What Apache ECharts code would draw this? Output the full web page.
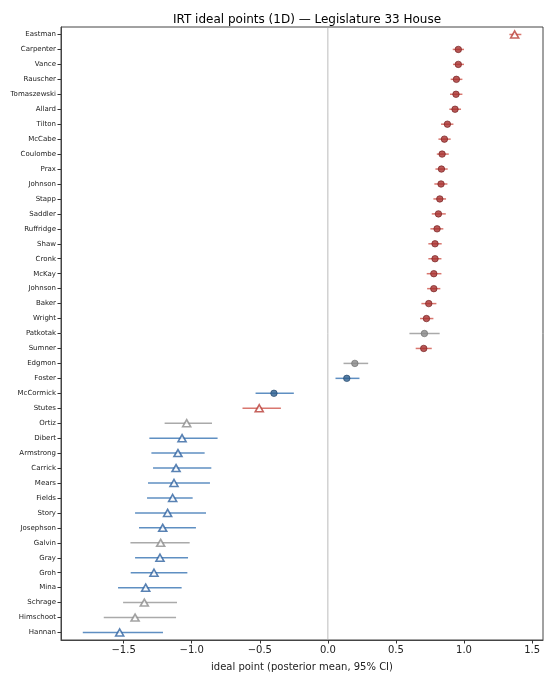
<!DOCTYPE html>
<html>
<head>
<meta charset="utf-8">
<script src="https://cdn.jsdelivr.net/npm/echarts@6/dist/echarts.min.js"></script>
<style>
  html, body { margin: 0; padding: 0; background: #fff; }
  #main { width: 553px; height: 680px; }
</style>
</head>
<body>
<div id="main"></div>
<script>
  // legislators, top to bottom
  const names = ['Eastman', 'Carpenter', 'Vance', 'Rauscher', 'Tomaszewski', 'Allard', 'Tilton', 'McCabe',
    'Coulombe', 'Prax', 'Johnson', 'Stapp', 'Saddler', 'Ruffridge', 'Shaw', 'Cronk', 'McKay', 'Johnson',
    'Baker', 'Wright', 'Patkotak', 'Sumner', 'Edgmon', 'Foster', 'McCormick', 'Stutes', 'Ortiz', 'Dibert',
    'Armstrong', 'Carrick', 'Mears', 'Fields', 'Story', 'Josephson', 'Galvin', 'Gray', 'Groh', 'Mina',
    'Schrage', 'Himschoot', 'Hannan'];
  // posterior mean
  const means = [1.372, 0.958, 0.958, 0.944, 0.941, 0.934, 0.878, 0.856, 0.839, 0.834, 0.831, 0.822,
    0.812, 0.802, 0.787, 0.787, 0.778, 0.778, 0.741, 0.724, 0.709, 0.704, 0.198, 0.139, -0.396, -0.504,
    -1.037, -1.071, -1.101, -1.115, -1.130, -1.140, -1.177, -1.213, -1.228, -1.233, -1.277, -1.338,
    -1.348, -1.416, -1.529];
  // 95% CI bounds
  const lo = [1.333, 0.917, 0.919, 0.902, 0.897, 0.892, 0.831, 0.812, 0.800, 0.790, 0.782, 0.775,
    0.763, 0.753, 0.738, 0.738, 0.726, 0.729, 0.687, 0.677, 0.599, 0.645, 0.115, 0.056, -0.531, -0.627,
    -1.199, -1.311, -1.296, -1.284, -1.321, -1.328, -1.416, -1.387, -1.450, -1.416, -1.448, -1.541,
    -1.504, -1.646, -1.800];
  const hi = [1.421, 1.000, 1.000, 0.988, 0.988, 0.978, 0.922, 0.902, 0.888, 0.880, 0.878, 0.868,
    0.866, 0.848, 0.836, 0.834, 0.834, 0.826, 0.797, 0.775, 0.821, 0.763, 0.296, 0.232, -0.250, -0.345,
    -0.851, -0.810, -0.905, -0.856, -0.866, -0.993, -0.895, -0.969, -1.015, -1.027, -1.032, -1.074,
    -1.108, -1.115, -1.211];
  // R / D / I
  const party = ['R', 'R', 'R', 'R', 'R', 'R', 'R', 'R', 'R', 'R', 'R', 'R', 'R', 'R', 'R', 'R', 'R', 'R',
    'R', 'R', 'I', 'R', 'I', 'D', 'D', 'R', 'I', 'D', 'D', 'D', 'D', 'D', 'D', 'D', 'I', 'D', 'D', 'D',
    'I', 'I', 'D'];
  // c = circle, t = triangle
  const shape = ['t', 'c', 'c', 'c', 'c', 'c', 'c', 'c', 'c', 'c', 'c', 'c', 'c', 'c', 'c', 'c', 'c', 'c',
    'c', 'c', 'c', 'c', 'c', 'c', 'c', 't', 't', 't', 't', 't', 't', 't', 't', 't', 't', 't', 't', 't',
    't', 't', 't'];
  const xTicks = [-1.5, -1.0, -0.5, 0.0, 0.5, 1.0, 1.5];

  const lineColor = { R: '#d9776f', D: '#5f8fc2', I: '#aaaaaa' };
  const fillColor = { R: '#a8302e', D: '#2e5f8f', I: '#888888' };
  const edgeColor = { R: '#6e1a1a', D: '#1f4266', I: '#6a6a6a' };
  const triColor = { R: '#b83c36', D: '#2f63a0', I: '#8c8c8c' };

  // [lo, row, hi]
  const ciData = names.map((n, i) => [lo[i], i, hi[i]]);
  const ptData = names.map((n, i) => {
    const p = party[i];
    if (shape[i] === 't') {
      return {
        value: [means[i], i],
        symbol: 'triangle',
        symbolSize: [8, 7],
        itemStyle: { color: '#fff', borderColor: triColor[p], borderWidth: 1.6 }
      };
    }
    return {
      value: [means[i], i],
      symbol: 'circle',
      symbolSize: 6.5,
      itemStyle: { color: fillColor[p], borderColor: edgeColor[p], borderWidth: 0.8 }
    };
  });

  const fmt = v => (v < 0 ? '\u2212' : '') + Math.abs(v).toFixed(1);

  const chart = echarts.init(document.getElementById('main'));
  chart.setOption({
    animation: false,
    textStyle: { fontFamily: 'DejaVu Sans' },
    title: {
      text: 'IRT ideal points (1D) \u2014 Legislature 33 House',
      left: 302,
      textAlign: 'center',
      top: 9,
      textStyle: { fontSize: 12, fontWeight: 'normal', color: '#000', fontFamily: 'DejaVu Sans' }
    },
    grid: {
      left: 61, right: 10, top: 27, bottom: 40,
      show: true, borderColor: '#444', borderWidth: 1
    },
    xAxis: {
      type: 'value',
      min: -1.96,
      max: 1.58,
      splitLine: { show: false },
      axisLine: { show: true, onZero: false, lineStyle: { color: '#444' } },
      axisTick: { show: true, length: 3.5, customValues: xTicks, lineStyle: { color: '#333' } },
      axisLabel: { customValues: xTicks, formatter: fmt, fontSize: 10, color: '#222', margin: 5 },
      name: 'ideal point (posterior mean, 95% CI)',
      nameLocation: 'middle',
      nameGap: 22,
      nameTextStyle: { fontSize: 10, color: '#222' }
    },
    yAxis: {
      type: 'category',
      inverse: true,
      data: names,
      axisLine: { show: true, onZero: false, lineStyle: { color: '#444' } },
      axisTick: { show: true, alignWithLabel: true, length: 3.5, interval: 0, lineStyle: { color: '#333' } },
      axisLabel: { fontSize: 7, color: '#1a1a1a', margin: 5, interval: 0 },
      splitLine: { show: false }
    },
    series: [
      {
        // zero reference line
        type: 'custom',
        z: 0,
        silent: true,
        data: [[0, 0]],
        renderItem: function (params, api) {
          const cs = params.coordSys;
          const p = api.coord([0, 0]);
          return {
            type: 'line',
            shape: { x1: p[0], y1: cs.y, x2: p[0], y2: cs.y + cs.height },
            style: { stroke: '#aaaaaa', lineWidth: 0.8 }
          };
        }
      },
      {
        type: 'custom',
        z: 1,
        data: ciData,
        renderItem: function (params, api) {
          const a = api.coord([api.value(0), api.value(1)]);
          const b = api.coord([api.value(2), api.value(1)]);
          return {
            type: 'line',
            shape: { x1: a[0], y1: a[1], x2: b[0], y2: b[1] },
            style: { stroke: lineColor[party[params.dataIndex]], lineWidth: 1.5 }
          };
        }
      },
      {
        type: 'scatter',
        z: 2,
        data: ptData
      }
    ]
  });
</script>
</body>
</html>
